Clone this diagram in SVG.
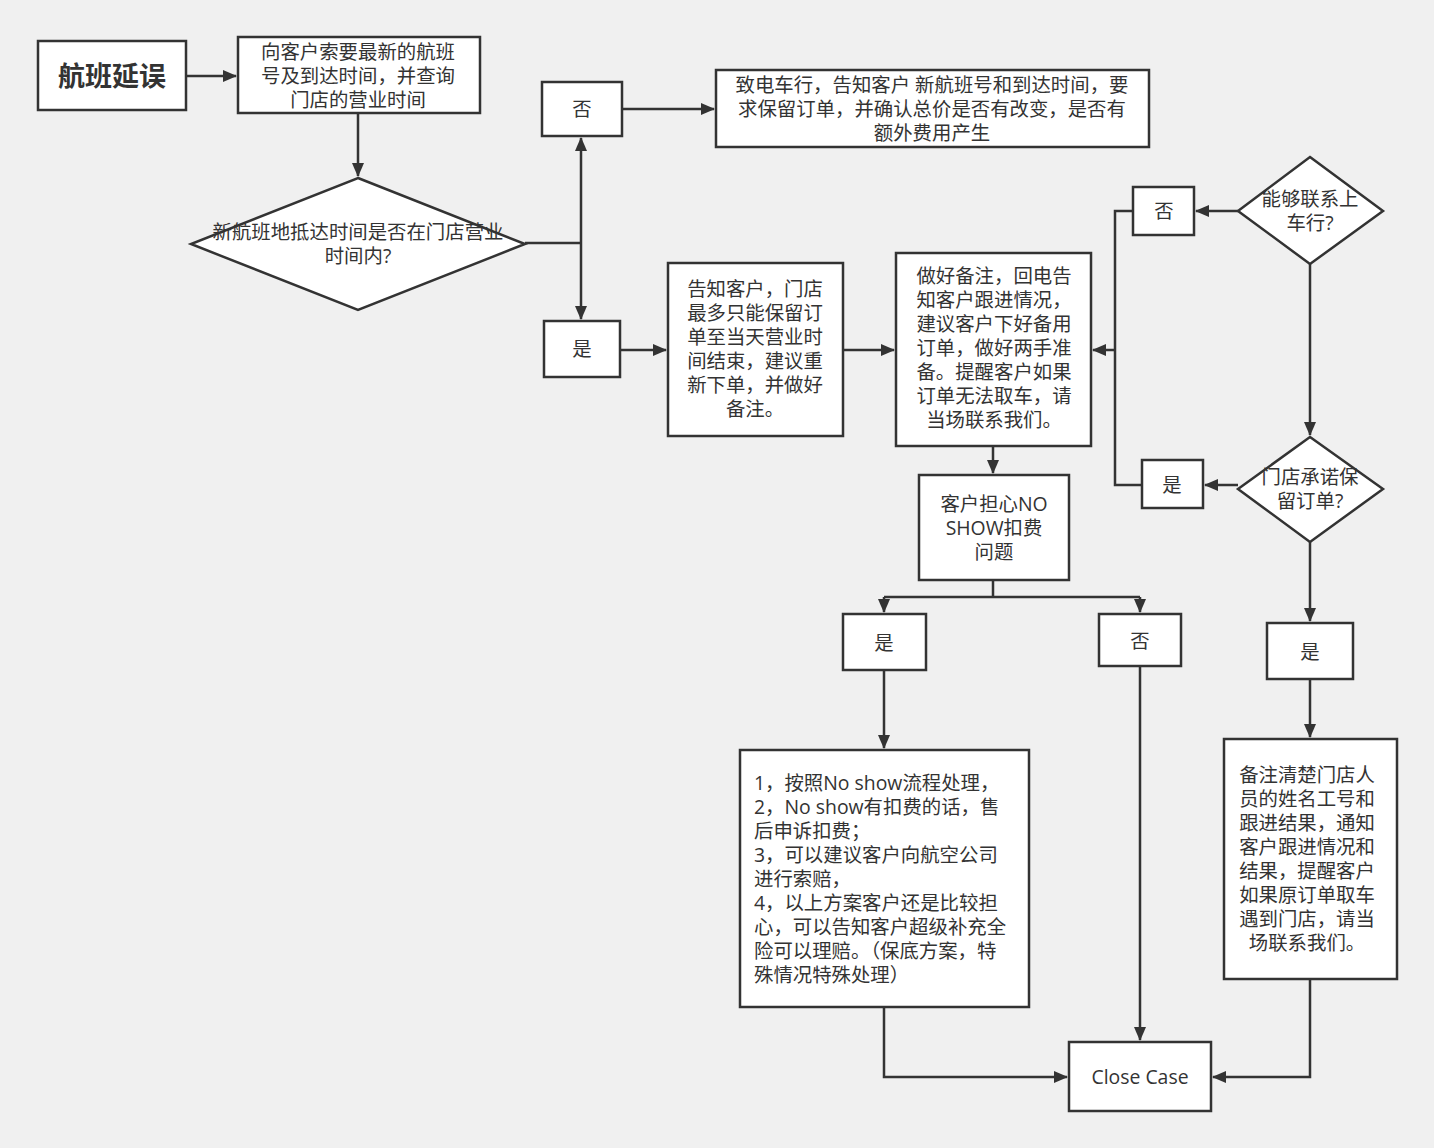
<svg xmlns="http://www.w3.org/2000/svg" width="1434" height="1148" viewBox="0 0 1434 1148">
<style>
.b{fill:#fff;stroke:#333;stroke-width:2.5}
text{font-family:"Open Sans","Noto Sans CJK SC",sans-serif;font-size:19.4px;fill:#333;text-anchor:middle}
.l{text-anchor:start}
.c path{fill:none;stroke:#333;stroke-width:2.5}
</style>
<defs><marker id="a" markerWidth="14" markerHeight="12" refX="13" refY="6" orient="auto" markerUnits="userSpaceOnUse"><path d="M0,0L14,6L0,12z" fill="#333"/></marker></defs>
<rect width="1434" height="1148" fill="#f0f0f0"/>
<g class="c">
<path d="M186,76H236" marker-end="url(#a)"/>
<path d="M358,113V176" marker-end="url(#a)"/>
<path d="M525,243H581"/>
<path d="M581,243V138" marker-end="url(#a)"/>
<path d="M581,243V319" marker-end="url(#a)"/>
<path d="M622,109H714" marker-end="url(#a)"/>
<path d="M620,350H666" marker-end="url(#a)"/>
<path d="M843,350H894" marker-end="url(#a)"/>
<path d="M993,446V473" marker-end="url(#a)"/>
<path d="M993,580V597M884,597H1140"/>
<path d="M884,597V612" marker-end="url(#a)"/>
<path d="M1140,597V612" marker-end="url(#a)"/>
<path d="M884,670V748" marker-end="url(#a)"/>
<path d="M1140,666V1040" marker-end="url(#a)"/>
<path d="M884,1007V1077H1067" marker-end="url(#a)"/>
<path d="M1310,979V1077H1213" marker-end="url(#a)"/>
<path d="M1310,679V737" marker-end="url(#a)"/>
<path d="M1310,542V621" marker-end="url(#a)"/>
<path d="M1310,264V435" marker-end="url(#a)"/>
<path d="M1238,211H1196" marker-end="url(#a)"/>
<path d="M1238,485H1205" marker-end="url(#a)"/>
<path d="M1133,211H1115V485H1142"/>
<path d="M1115,350H1093" marker-end="url(#a)"/>
</g>
<g id="n1"><rect class="b" x="38" y="41" width="148" height="69"/><text x="112" y="86" style="font-size:27px;font-weight:bold">航班延误</text></g>
<g id="n2"><rect class="b" x="238" y="37" width="242" height="76"/><text x="358" y="59">向客户索要最新的航班</text><text x="358" y="83">号及到达时间，并查询</text><text x="358" y="107">门店的营业时间</text></g>
<g id="n3"><path class="b" d="M358,178L525,244L358,310L191,244z"/><text x="358" y="239">新航班地抵达时间是否在门店营业</text><text x="358" y="263">时间内?</text></g>
<g id="n4"><rect class="b" x="542" y="82" width="80" height="54"/><text x="582" y="116">否</text></g>
<g id="n5"><rect class="b" x="544" y="321" width="76" height="56"/><text x="582" y="356">是</text></g>
<g id="n6"><rect class="b" x="716" y="70" width="433" height="77"/><text x="932" y="92">致电车行，告知客户 新航班号和到达时间，要</text><text x="932" y="116">求保留订单，并确认总价是否有改变，是否有</text><text x="932" y="140">额外费用产生</text></g>
<g id="n7"><rect class="b" x="668" y="263" width="175" height="173"/><text x="755" y="296">告知客户，门店</text><text x="755" y="320">最多只能保留订</text><text x="755" y="344">单至当天营业时</text><text x="755" y="368">间结束，建议重</text><text x="755" y="392">新下单，并做好</text><text x="755" y="416">备注。</text></g>
<g id="n8"><rect class="b" x="896" y="253" width="195" height="193"/><text x="994" y="283">做好备注，回电告</text><text x="994" y="307">知客户跟进情况，</text><text x="994" y="331">建议客户下好备用</text><text x="994" y="355">订单，做好两手准</text><text x="994" y="379">备。提醒客户如果</text><text x="994" y="403">订单无法取车，请</text><text x="994" y="427">当场联系我们。</text></g>
<g id="n9"><rect class="b" x="919" y="475" width="150" height="105"/><text x="994" y="511">客户担心NO</text><text x="994" y="535">SHOW扣费</text><text x="994" y="559">问题</text></g>
<g id="n10"><rect class="b" x="843" y="614" width="83" height="56"/><text x="884" y="650">是</text></g>
<g id="n11"><rect class="b" x="1099" y="614" width="82" height="52"/><text x="1140" y="648">否</text></g>
<g id="n12"><rect class="b" x="740" y="750" width="289" height="257"/>
<text class="l" x="754" y="790">1，按照No show流程处理，</text><text class="l" x="754" y="814">2，No show有扣费的话，售</text><text class="l" x="754" y="838">后申诉扣费；</text><text class="l" x="754" y="862">3，可以建议客户向航空公司</text><text class="l" x="754" y="886">进行索赔，</text><text class="l" x="754" y="910">4，以上方案客户还是比较担</text><text class="l" x="754" y="934">心，可以告知客户超级补充全</text><text class="l" x="754" y="958">险可以理赔。（保底方案，特</text><text class="l" x="754" y="982">殊情况特殊处理）</text></g>
<g id="n13"><rect class="b" x="1069" y="1042" width="142" height="69"/><text x="1140" y="1084">Close Case</text></g>
<g id="n14"><path class="b" d="M1310,157L1383,211L1310,264L1238,211z"/><text x="1310" y="206">能够联系上</text><text x="1310" y="230">车行?</text></g>
<g id="n15"><rect class="b" x="1133" y="187" width="61" height="48"/><text x="1164" y="218">否</text></g>
<g id="n16"><path class="b" d="M1310,437L1383,489L1310,542L1238,489z"/><text x="1310" y="484">门店承诺保</text><text x="1310" y="508">留订单?</text></g>
<g id="n17"><rect class="b" x="1142" y="460" width="61" height="48"/><text x="1172" y="492">是</text></g>
<g id="n18"><rect class="b" x="1267" y="623" width="86" height="56"/><text x="1310" y="659">是</text></g>
<g id="n19"><rect class="b" x="1224" y="739" width="173" height="240"/><text x="1307" y="782">备注清楚门店人</text><text x="1307" y="806">员的姓名工号和</text><text x="1307" y="830">跟进结果，通知</text><text x="1307" y="854">客户跟进情况和</text><text x="1307" y="878">结果，提醒客户</text><text x="1307" y="902">如果原订单取车</text><text x="1307" y="926">遇到门店，请当</text><text x="1307" y="950">场联系我们。</text></g>
</svg>
